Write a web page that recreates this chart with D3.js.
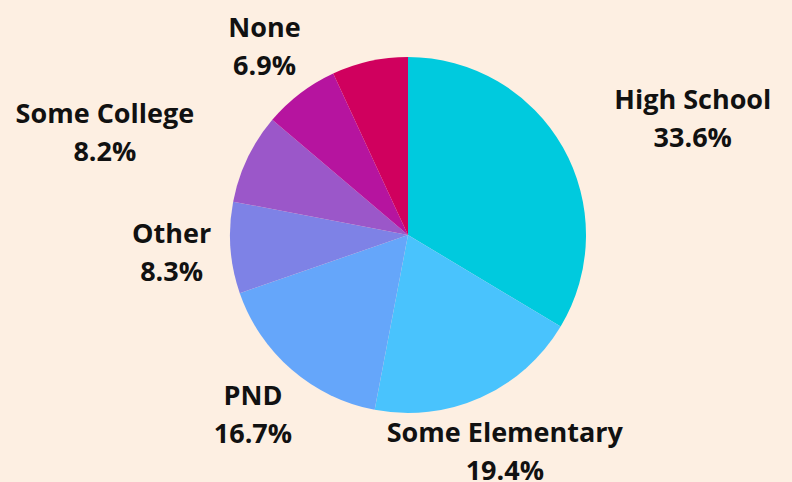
<!DOCTYPE html>
<html>
<head>
<meta charset="utf-8">
<script src="https://cdn.jsdelivr.net/npm/d3@7"></script>
<style>
  html, body { margin: 0; padding: 0; background: #fdefe2; }
  svg { display: block; }
  text { font-family: "Open Sans", sans-serif; font-weight: 700; fill: #111; }
</style>
</head>
<body>
<div id="chart"></div>
<script>
// slice data, clockwise from 12 o'clock
var categories = ["High School", "Some Elementary", "PND", "Other", "Some College", "None", "Unlabeled"];
var percents = [33.6, 19.4, 16.7, 8.3, 8.2, 6.9, 6.9];
var showLabel = [true, true, true, true, true, true, false];
var colors = ["#00cade", "#49c3fd", "#65a6fa", "#7e82e6", "#9b57c9", "#b6149f", "#d0005e"];

var w = 792;
var h = 482;
var cx = 408, cy = 235;
var radius = 178;
var labelRadius = 237;
var fontSize = 27;
var lineGap = 38;

var svg = d3.select("#chart")
    .append("svg")
    .attr("width", w)
    .attr("height", h);

var data = categories.map(function(c, i) {
    return { name: c, value: percents[i], color: colors[i], show: showLabel[i] };
});

var pie = d3.pie()
    .sort(null)
    .value(function(d) { return d.value; });

var arc = d3.arc()
    .innerRadius(0)
    .outerRadius(radius);

var g = svg.append("g")
    .attr("transform", "translate(" + cx + "," + cy + ")");

var arcs = pie(data);

g.selectAll("path")
    .data(arcs)
    .enter()
    .append("path")
    .attr("d", arc)
    .attr("fill", function(d) { return d.data.color; });

// labels: two lines centered on the mid angle, pushed sideways if they hit the pie
var labels = g.selectAll("g.label")
    .data(arcs.filter(function(d) { return d.data.show; }))
    .enter()
    .append("g")
    .attr("class", "label");

labels.each(function(d) {
    var sel = d3.select(this);
    sel.append("text")
        .attr("text-anchor", "middle")
        .attr("font-size", fontSize)
        .attr("y", -lineGap / 2 + fontSize * 0.36)
        .text(d.data.name);
    sel.append("text")
        .attr("text-anchor", "middle")
        .attr("font-size", fontSize)
        .attr("y", lineGap / 2 + fontSize * 0.36)
        .text(d.data.value.toFixed(1) + "%");

    var mid = (d.startAngle + d.endAngle) / 2;
    var x = Math.sin(mid) * labelRadius;
    var y = -Math.cos(mid) * labelRadius;
    var bw = this.getBBox().width;
    var bh = this.getBBox().height;

    // nearest point of the box to the pie center
    var nx = Math.max(x - bw / 2, Math.min(0, x + bw / 2));
    var ny = Math.max(y - bh / 2, Math.min(0, y + bh / 2));
    if (Math.sqrt(nx * nx + ny * ny) < radius) {
        x += (x > 0 ? 1 : -1) * bw / 2;
    }
    sel.attr("transform", "translate(" + x + "," + y + ")");
});
</script>
</body>
</html>
